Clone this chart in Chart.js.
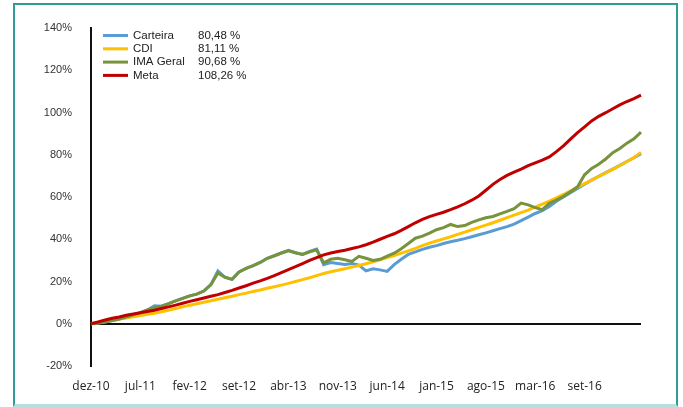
<!DOCTYPE html>
<html lang="pt">
<head>
    <meta charset="UTF-8">
    <title>Rentabilidade acumulada</title>
    <script src="https://cdn.jsdelivr.net/npm/chart.js"></script>
    <style>
        body {
            margin: 0;
            background: #fff;
        }

        .wrap {
            position: relative;
            width: 683px;
            height: 407px;
        }

        .frame {
            position: absolute;
            left: 13px;
            top: 3px;
            width: 665px;
            height: 404px;
            box-sizing: border-box;
            border: 2px solid #2f9c95;
            border-bottom: 3px solid #b5e0dc;
        }

        canvas {
            position: absolute;
            left: 0;
            top: 0;
        }
    </style>
</head>
<body>
    <div class="wrap">
        <div class="frame"></div>
        <canvas id="chart" width="683" height="407"></canvas>
    </div>

    <script>
        // labels shown every 7 points along the x axis
        const tickLabels = ['dez-10', 'jul-11', 'fev-12', 'set-12', 'abr-13', 'nov-13',
                            'jun-14', 'jan-15', 'ago-15', 'mar-16', 'set-16'];

        const seriesNames = ['Carteira', 'CDI', 'IMA Geral', 'Meta'];
        const finalValues = [80.48, 81.11, 90.68, 108.26];
        const seriesColors = ['#5b9bd5', '#ffc000', '#77933c', '#c00000'];

        // cumulative return (%), one value per month
        const carteira = [0, 0.3, 0.8, 1.5, 2.2, 3.2, 4.2, 5.3, 6.5, 8.5, 8.3, 9.5, 10.8, 12.0, 13.2, 14.0,
            15.5, 18.5, 25.0, 22.0, 21.0, 24.5, 26.2, 27.5, 29.0, 31.0, 32.2, 33.5, 34.8, 33.6, 32.8, 34.2,
            35.3, 28.0, 29.0, 28.5, 28.0, 28.5, 27.8, 25.0, 26.0, 25.5, 24.8, 28.0, 30.5, 32.8, 34.0, 35.2,
            36.2, 37.0, 38.0, 38.8, 39.5, 40.3, 41.2, 42.1, 43.0, 44.0, 45.0, 46.0, 47.2, 48.8, 50.5, 52.2,
            53.5, 55.5, 58.0, 60.0, 62.0, 64.0, 66.0, 68.0, 69.8, 71.5, 73.2, 75.0, 76.8, 78.6, 80.48];

        const cdi = [0, 0.5, 1.1, 1.6, 2.2, 2.7, 3.3, 3.9, 4.5, 5.0, 5.7, 6.4, 7.2, 8.0, 8.8, 9.5,
            10.2, 10.9, 11.6, 12.3, 13.0, 13.8, 14.5, 15.3, 16.0, 16.8, 17.5, 18.3, 19.1, 20.0, 20.9, 21.8,
            22.8, 23.8, 24.6, 25.3, 26.0, 26.8, 27.6, 28.4, 29.3, 30.3, 31.3, 32.3, 33.4, 34.5, 35.7, 37.0,
            38.2, 39.2, 40.2, 41.2, 42.3, 43.4, 44.5, 45.6, 46.7, 47.8, 49.0, 50.2, 51.4, 52.6, 53.8, 55.2,
            56.6, 58.0, 59.6, 61.2, 62.9, 64.6, 66.3, 68.0, 69.7, 71.4, 73.1, 74.9, 76.7, 78.7, 81.11];

        const imaGeral = [0, 0.3, 0.8, 1.5, 2.2, 3.2, 4.2, 5.3, 6.5, 7.6, 8.3, 9.5, 10.8, 12.0, 13.2, 14.0,
            15.5, 18.5, 24.0, 22.0, 21.0, 24.5, 26.2, 27.5, 29.0, 31.0, 32.2, 33.5, 34.5, 33.6, 32.8, 34.0,
            35.0, 28.8, 30.5, 31.0, 30.3, 29.5, 31.9, 31.0, 30.0, 30.5, 32.0, 33.4, 35.5, 38.0, 40.5, 41.5,
            42.9, 44.5, 45.5, 47.0, 46.0, 46.5, 48.0, 49.2, 50.2, 50.8, 52.0, 53.2, 54.5, 57.1, 56.3, 55.0,
            54.0, 57.0, 58.5, 60.3, 62.5, 64.8, 70.5, 73.5, 75.5, 78.0, 81.0, 83.0, 85.5, 87.5, 90.68];

        const meta = [0, 0.8, 1.8, 2.6, 3.2, 4.0, 4.6, 5.2, 5.8, 6.4, 7.2, 8.0, 8.8, 9.7, 10.6, 11.4,
            12.2, 13.0, 13.8, 14.8, 15.8, 16.9, 18.0, 19.2, 20.3, 21.5, 22.8, 24.2, 25.6, 27.0, 28.5, 30.0,
            31.3, 32.6, 33.5, 34.2, 34.8, 35.6, 36.4, 37.4, 38.6, 40.0, 41.4, 42.6, 44.2, 46.0, 47.8, 49.4,
            50.7, 51.8, 52.8, 54.0, 55.3, 56.8, 58.5, 60.5, 63.2, 66.0, 68.3, 70.2, 71.8, 73.2, 74.8, 76.2,
            77.5, 79.0, 81.5, 84.2, 87.4, 90.5, 93.2, 96.0, 98.2, 99.9, 101.8, 103.6, 105.2, 106.6, 108.26];

        const labels = carteira.map((_, i) => (i % 7 === 0 && tickLabels[i / 7]) ? tickLabels[i / 7] : '');

        const seriesData = [carteira, cdi, imaGeral, meta];

        // two-column legend in the top left of the plot
        const legendPlugin = {
            id: 'sideLegend',
            afterDraw(chart) {
                const ctx = chart.ctx;
                ctx.save();
                ctx.font = '11.5px "Liberation Sans", Arial, sans-serif';
                ctx.textBaseline = 'middle';
                seriesNames.forEach((name, i) => {
                    const y = 35.5 + i * 13.3;
                    ctx.strokeStyle = seriesColors[i];
                    ctx.lineWidth = 3;
                    ctx.beginPath();
                    ctx.moveTo(103, y);
                    ctx.lineTo(128, y);
                    ctx.stroke();
                    ctx.fillStyle = '#222';
                    ctx.fillText(name, 133, y);
                    ctx.fillText(finalValues[i].toFixed(2).replace('.', ',') + ' %', 198, y);
                });
                ctx.restore();
            }
        };

        new Chart(document.getElementById('chart').getContext('2d'), {
            type: 'line',
            data: {
                labels: labels,
                datasets: seriesNames.map((name, i) => ({
                    label: name,
                    data: seriesData[i],
                    borderColor: seriesColors[i],
                    borderWidth: 3,
                    pointRadius: 0,
                    tension: 0,
                    order: 3 - i
                }))
            },
            options: {
                responsive: false,
                animation: false,
                layout: { padding: { top: 28, right: 42, bottom: 0, left: 0 } },
                plugins: {
                    legend: { display: false },
                    tooltip: { enabled: false }
                },
                scales: {
                    x: {
                        grid: { display: false },
                        border: { display: false },
                        afterFit: s => { s.height = 41; },
                        ticks: {
                            autoSkip: false,
                            maxRotation: 0,
                            padding: 5,
                            color: '#222',
                            font: { family: '"Open Sans", sans-serif', size: 12 },
                            callback: function (v) { return this.getLabelForValue(v); }
                        }
                    },
                    y: {
                        min: -20,
                        max: 140,
                        afterFit: s => { s.width = 91; },
                        border: { display: true, color: '#111', width: 2 },
                        grid: {
                            drawTicks: false,
                            lineWidth: 2,
                            color: c => c.tick && c.tick.value === 0 ? '#111' : 'transparent'
                        },
                        ticks: {
                            stepSize: 20,
                            padding: 19,
                            color: '#333',
                            font: { family: '"Liberation Sans", Arial, sans-serif', size: 11 },
                            callback: v => v + '%'
                        }
                    }
                }
            },
            plugins: [legendPlugin]
        });
    </script>
</body>
</html>
